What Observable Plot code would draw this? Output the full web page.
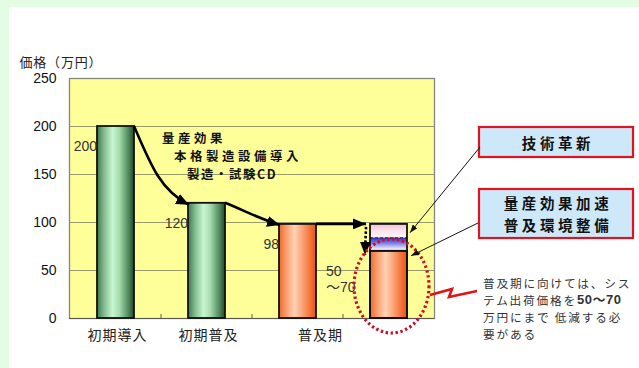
<!DOCTYPE html>
<html>
<head>
<meta charset="utf-8">
<script src="https://cdn.jsdelivr.net/npm/d3@7"></script>
<script src="https://cdn.jsdelivr.net/npm/@observablehq/plot@0.6"></script>
<style>
  html, body { margin: 0; padding: 0; }
  body { width: 639px; height: 368px; background: #e4fce4; position: relative; overflow: hidden; }
  #panel { position: absolute; left: 9px; top: 7px; right: 0; bottom: 0; background: #ffffff; }
  #chart { position: absolute; left: 0; top: 0; }
  .xlab text { letter-spacing: 1px; }
  .ytitle text { letter-spacing: 0.8px; }
</style>
</head>
<body>
<div id="panel"></div>
<div id="chart"></div>
<script>
// Price stages of a system (万円)
const categories = ["初期導入", "初期普及", "普及期", "普及期目標"];
const tickLabels = ["初期導入", "初期普及", "普及期", ""];
const prices = [200, 120, 98, 70];
const valueLabels = ["200", "120", "98", "50\n～70"];
const yTicks = [0, 50, 100, 150, 200, 250];

// Upper segments stacked on the target bar
const segLower = [70, 84];
const segUpper = [84, 98];

const bars = categories.map((c, i) => ({cat: c, v: prices[i], label: valueLabels[i]}));
const segs = segLower.map((lo, i) => ({cat: categories[3], y1: lo, y2: segUpper[i]}));
const axisLabels = categories.map((c, i) => ({cat: c, label: tickLabels[i]}));
const targetTop = segUpper[segUpper.length - 1];

const FONT_NUM = '"Liberation Sans", Arial, "Noto Sans CJK JP", sans-serif';
const FONT_JP = '"Noto Sans CJK JP", sans-serif';

const chart = Plot.plot({
  width: 639,
  height: 368,
  marginLeft: 69,
  marginRight: 205,
  marginTop: 78,
  marginBottom: 50,
  style: {background: "transparent", fontFamily: FONT_NUM, fontSize: "14px", color: "#111", overflow: "visible"},
  x: {domain: categories, paddingInner: 0.595, paddingOuter: 0.2975, axis: null},
  y: {domain: [0, 250], axis: null},
  marks: [
    Plot.frame({fill: "#ffff99", stroke: "none"}),
    Plot.gridY(yTicks, {stroke: "#9a9a66", strokeOpacity: 1, strokeWidth: 1}),
    Plot.frame({stroke: "#86867a", strokeWidth: 1.3}),
    Plot.ruleY([0], {stroke: "#5a5a50", strokeWidth: 1.2}),
    Plot.axisY(yTicks, {tickSize: 0, tickPadding: 13, fontSize: 14, fill: "#111"}),
    Plot.text(["価格（万円）"], {frameAnchor: "top-left", dx: -50, dy: -16, textAnchor: "start", lineAnchor: "middle", fontSize: 13, fontFamily: FONT_JP, fill: "#222", className: "ytitle"}),

    // bars
    Plot.barY(bars, {filter: (d, i) => i < 2, x: "cat", y: "v", fill: "url(#gGreen)", stroke: "#111", strokeWidth: 1.8}),
    Plot.barY(bars, {filter: (d, i) => i >= 2, x: "cat", y: "v", fill: "url(#gOrange)", stroke: "#111", strokeWidth: 1.8}),
    Plot.barY(segs, {filter: (d, i) => i === 0, x: "cat", y1: "y1", y2: "y2", fill: "url(#gBlue)"}),
    Plot.barY(segs, {filter: (d, i) => i === 1, x: "cat", y1: "y1", y2: "y2", fill: "url(#gPink)"}),
    Plot.tickY([segLower[1]], {x: () => categories[3], y: d => d, stroke: "#2a2a60", strokeWidth: 1.3, strokeDasharray: "3,2"}),
    Plot.barY([categories[3]], {x: d => d, y1: 0, y2: targetTop, fill: "none", stroke: "#111", strokeWidth: 1.8}),
    Plot.barY(bars, {filter: (d, i) => i === 3, x: "cat", y: "v", fill: "none", stroke: "#111", strokeWidth: 1.8}),

    // value labels
    Plot.text(bars, {filter: (d, i) => i < 3, x: "cat", y: "v", text: "label", textAnchor: "end", dx: -19, dy: 20, fontSize: 14, fill: "#333"}),
    Plot.text(bars, {filter: (d, i) => i === 3, x: "cat", y: "v", text: "label", textAnchor: "start", dx: -63, dy: 28, lineHeight: 1.15, fontSize: 14, fill: "#333"}),

    // category labels
    Plot.text(axisLabels, {filter: (d, i) => i < 2, x: "cat", text: "label", frameAnchor: "bottom", dy: 21, dx: 1.5, fontSize: 14, fontFamily: FONT_JP, fill: "#222", className: "xlab"}),
    Plot.text(axisLabels, {filter: (d, i) => i === 2, x: "cat", text: "label", frameAnchor: "bottom", dy: 21, dx: 22.5, fontSize: 14, fontFamily: FONT_JP, fill: "#222", className: "xlab"})
  ]
});

document.getElementById("chart").appendChild(chart);

// ---- gradients and annotations ----
const svg = d3.select(chart);
const sx = chart.scale("x");
const sy = chart.scale("y");
const bw = sx.bandwidth;
const L = c => sx.apply(c);
const R = c => sx.apply(c) + bw;
const Y = v => sy.apply(v);

const defs = svg.insert("defs", ":first-child");
function grad(id, vertical, stops) {
  const g = defs.append("linearGradient").attr("id", id)
    .attr("x1", 0).attr("y1", 0).attr("x2", vertical ? 0 : 1).attr("y2", vertical ? 1 : 0);
  stops.forEach(([o, c]) => g.append("stop").attr("offset", o).attr("stop-color", c));
}
grad("gGreen", false, [[0, "#3f7550"], [0.18, "#7fb98c"], [0.42, "#c9f7d0"], [0.6, "#a6dcae"], [0.85, "#4f8a5c"], [1, "#24452c"]]);
grad("gOrange", false, [[0, "#f0682a"], [0.18, "#f99a68"], [0.42, "#ffd2b4"], [0.62, "#fba67a"], [0.88, "#f26a2c"], [1, "#e0561c"]]);
grad("gBlue", true, [[0, "#3434c8"], [0.35, "#6a6ae0"], [0.8, "#dcdcfa"], [1, "#ffffff"]]);
grad("gPink", true, [[0, "#f1c4d4"], [0.6, "#fbe6ee"], [1, "#fff6f9"]]);

const mk = (id, w, h, color) => {
  defs.append("marker").attr("id", id)
    .attr("markerUnits", "userSpaceOnUse").attr("markerWidth", w).attr("markerHeight", h)
    .attr("refX", w).attr("refY", h / 2).attr("orient", "auto")
    .append("path").attr("d", `M0,0L${w},${h / 2}L0,${h}Z`).attr("fill", color);
};
mk("ahBig", 13, 11, "#000");
mk("ahSmall", 8, 6, "#111");

const g = svg.append("g").attr("text-anchor", "start");

// category boundary ticks along the base
for (let i = 1; i < categories.length; i++) {
  const bx = (R(categories[i - 1]) + L(categories[i])) / 2;
  g.append("line").attr("x1", bx).attr("x2", bx).attr("y1", Y(0)).attr("y2", Y(0) - 4)
    .attr("stroke", "#5a5a50").attr("stroke-width", 1);
}

// price-drop arrows between bars
const arrowStyle = sel => sel.attr("fill", "none").attr("stroke", "#000").attr("stroke-width", 2.6).attr("marker-end", "url(#ahBig)");
{
  const x0 = R(categories[0]), y0 = Y(prices[0]);
  const x1 = L(categories[1]) + 1, y1 = Y(prices[1]) + 2;
  g.append("path").attr("d", `M${x0},${y0}C${x0 + 17},${y0 + 40} ${x1 - 28},${y1 - 14} ${x1},${y1}`).call(arrowStyle);
}
{
  const x0 = R(categories[1]), y0 = Y(prices[1]);
  const x1 = L(categories[2]) + 1, y1 = Y(prices[2]) + 1;
  g.append("path").attr("d", `M${x0},${y0}C${x0 + 20},${y0 + 8} ${x1 - 18},${y1 - 5} ${x1},${y1}`).call(arrowStyle);
}
{
  const x0 = R(categories[2]), y0 = Y(prices[2]);
  const x1 = L(categories[3]) - 4;
  g.append("path").attr("d", `M${x0},${y0}L${x1},${y0}`).call(arrowStyle);
  // dotted drop to the target level
  g.append("path").attr("d", `M${x1},${y0 + 3}L${x1 - 1},${Y(prices[3]) + 4}`)
    .attr("fill", "none").attr("stroke", "#000").attr("stroke-width", 2.6)
    .attr("stroke-dasharray", "2.5,2").attr("marker-end", "url(#ahBig)");
}

// annotation text on the arrows
const ann = g.append("g").attr("font-family", FONT_JP).attr("font-weight", "bold").attr("font-size", 12.4)
  .attr("fill", "#111").attr("text-anchor", "start").style("letter-spacing", "3.6px").attr("dominant-baseline", "central");
ann.append("text").attr("x", 162).attr("y", 138).text("量産効果");
ann.append("text").attr("x", 174).attr("y", 156).text("本格製造設備導入");
ann.append("text").attr("x", 187).attr("y", 174).style("letter-spacing", "1.6px").text("製造・試験CD");

// dotted red ellipse around the target bar
const cx = L(categories[3]) + bw / 2 + 3;
g.append("ellipse").attr("cx", cx).attr("cy", 286).attr("rx", 37.5).attr("ry", 47)
  .attr("fill", "none").attr("stroke", "#c8102a").attr("stroke-width", 3.2)
  .attr("stroke-dasharray", "2.4,2.6");

// lightning connector
g.append("polyline").attr("points", "430,295 452,289 449,297 477,291")
  .attr("fill", "none").attr("stroke", "#e01414").attr("stroke-width", 2.6).attr("stroke-linejoin", "miter");

// callout boxes, one text element per line
function box(y, h, lines) {
  g.append("rect").attr("x", 479).attr("y", y).attr("width", 154).attr("height", h)
    .attr("fill", "#cde8f9").attr("stroke", "#e0141e").attr("stroke-width", 2.2);
  lines.forEach((s, i) => g.append("text").attr("font-family", FONT_JP).attr("font-weight", "bold").attr("font-size", 14.5)
    .attr("fill", "#111").attr("text-anchor", "middle").style("letter-spacing", "3.6px").attr("dominant-baseline", "central")
    .attr("x", 558).attr("y", y + h / 2 + (i - (lines.length - 1) / 2) * 21.5).text(s));
}
box(127, 30, ["技術革新"]);
box(189, 49, ["量産効果加速", "普及環境整備"]);

// leader lines from the boxes to the bar segments
const leader = (x0, y0, x1, y1) => g.append("line").attr("x1", x0).attr("y1", y0).attr("x2", x1).attr("y2", y1)
  .attr("stroke", "#111").attr("stroke-width", 1).attr("marker-end", "url(#ahSmall)");
leader(480, 147, R(categories[3]) + 3, Y((segLower[1] + segUpper[1]) / 2) + 2);
leader(478, 223, R(categories[3]) + 4, Y(segLower[0]) + 5);

// note text, one text element per line
const noteLines = [
  [["普及期に向けては、シス", false]],
  [["テム出荷価格を", false], ["50～70", true]],
  [["万円にまで 低減する必", false]],
  [["要がある", false]]
];
noteLines.forEach((parts, i) => {
  const t = g.append("text").attr("font-family", FONT_JP).attr("font-size", 11.7).attr("fill", "#333")
    .attr("text-anchor", "start").style("letter-spacing", "1.8px").attr("dominant-baseline", "central")
    .attr("x", 483).attr("y", 282 + i * 17);
  parts.forEach(([s, bold]) => {
    const sp = t.append("tspan").text(s).attr("font-weight", bold ? "bold" : "normal");
    if (bold) sp.attr("font-family", FONT_NUM).attr("font-size", 13).style("letter-spacing", "0.5px");
  });
});
</script>
</body>
</html>
